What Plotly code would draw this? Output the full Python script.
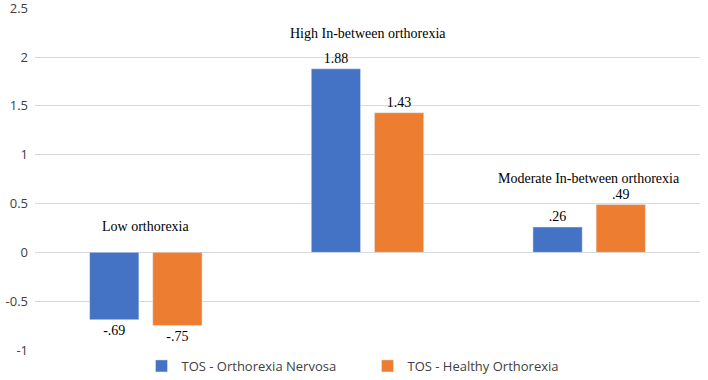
import plotly.graph_objects as go

categories = ["Low orthorexia", "High In-between orthorexia", "Moderate In-between orthorexia"]
nervosa = [-0.69, 1.88, 0.26]
healthy = [-0.75, 1.43, 0.49]
category_label_y = [0.27, 2.24, 0.76]
series_names = ["TOS - Orthorexia Nervosa", "TOS - Healthy Orthorexia"]
y_ticks = [-1, -0.5, 0, 0.5, 1, 1.5, 2, 2.5]
y_tick_text = ["-1", "-0.5", "0", "0.5", "1", "1.5", "2", "2.5"]


def fmt(v):
    s = f"{v:.2f}"
    return s.replace("0.", ".", 1) if abs(v) < 1 else s


serif = "Liberation Serif"
sans = "Open Sans"

fig = go.Figure()
fig.add_trace(go.Bar(x=categories, y=nervosa, name=series_names[0],
                     marker_color="#4472C4", text=[fmt(v) for v in nervosa],
                     textposition="outside", cliponaxis=False,
                     textfont=dict(family=serif, size=14, color="#000")))
fig.add_trace(go.Bar(x=categories, y=healthy, name=series_names[1],
                     marker_color="#ED7D31", text=[fmt(v) for v in healthy],
                     textposition="outside", cliponaxis=False,
                     textfont=dict(family=serif, size=14, color="#000")))

for c, yv in zip(categories, category_label_y):
    fig.add_annotation(x=c, y=yv, text=c, showarrow=False,
                       font=dict(family=serif, size=14, color="#000"))

fig.update_layout(
    width=708, height=380,
    margin=dict(l=35, r=8, t=8, b=30, autoexpand=False),
    plot_bgcolor="white", paper_bgcolor="white",
    barmode="group", bargap=0.43, bargroupgap=0.22,
    showlegend=True,
    legend=dict(orientation="h", x=0.5, xanchor="center",
                yref="container", y=0.037, yanchor="middle",
                font=dict(family=sans, size=13, color="#404040"),
                itemwidth=30, traceorder="normal",
                entrywidth=181, entrywidthmode="pixels"),
    xaxis=dict(showticklabels=False, showgrid=False, showline=False,
               zeroline=False, automargin=False),
    yaxis=dict(range=[-1.0, 2.503], tickvals=y_ticks, ticktext=y_tick_text,
               showgrid=True, gridcolor="#d9d9d9", gridwidth=1,
               zeroline=True, zerolinecolor="#d9d9d9", zerolinewidth=1,
               showline=False, ticks="", ticklabelstandoff=6, automargin=False,
               ticklabeloverflow="allow",
               tickfont=dict(family=sans, size=13, color="#404040")),
)
fig.write_html("out.html", config={"displayModeBar": False},
               post_script="document.body.style.margin='0';document.body.style.overflow='hidden';")
